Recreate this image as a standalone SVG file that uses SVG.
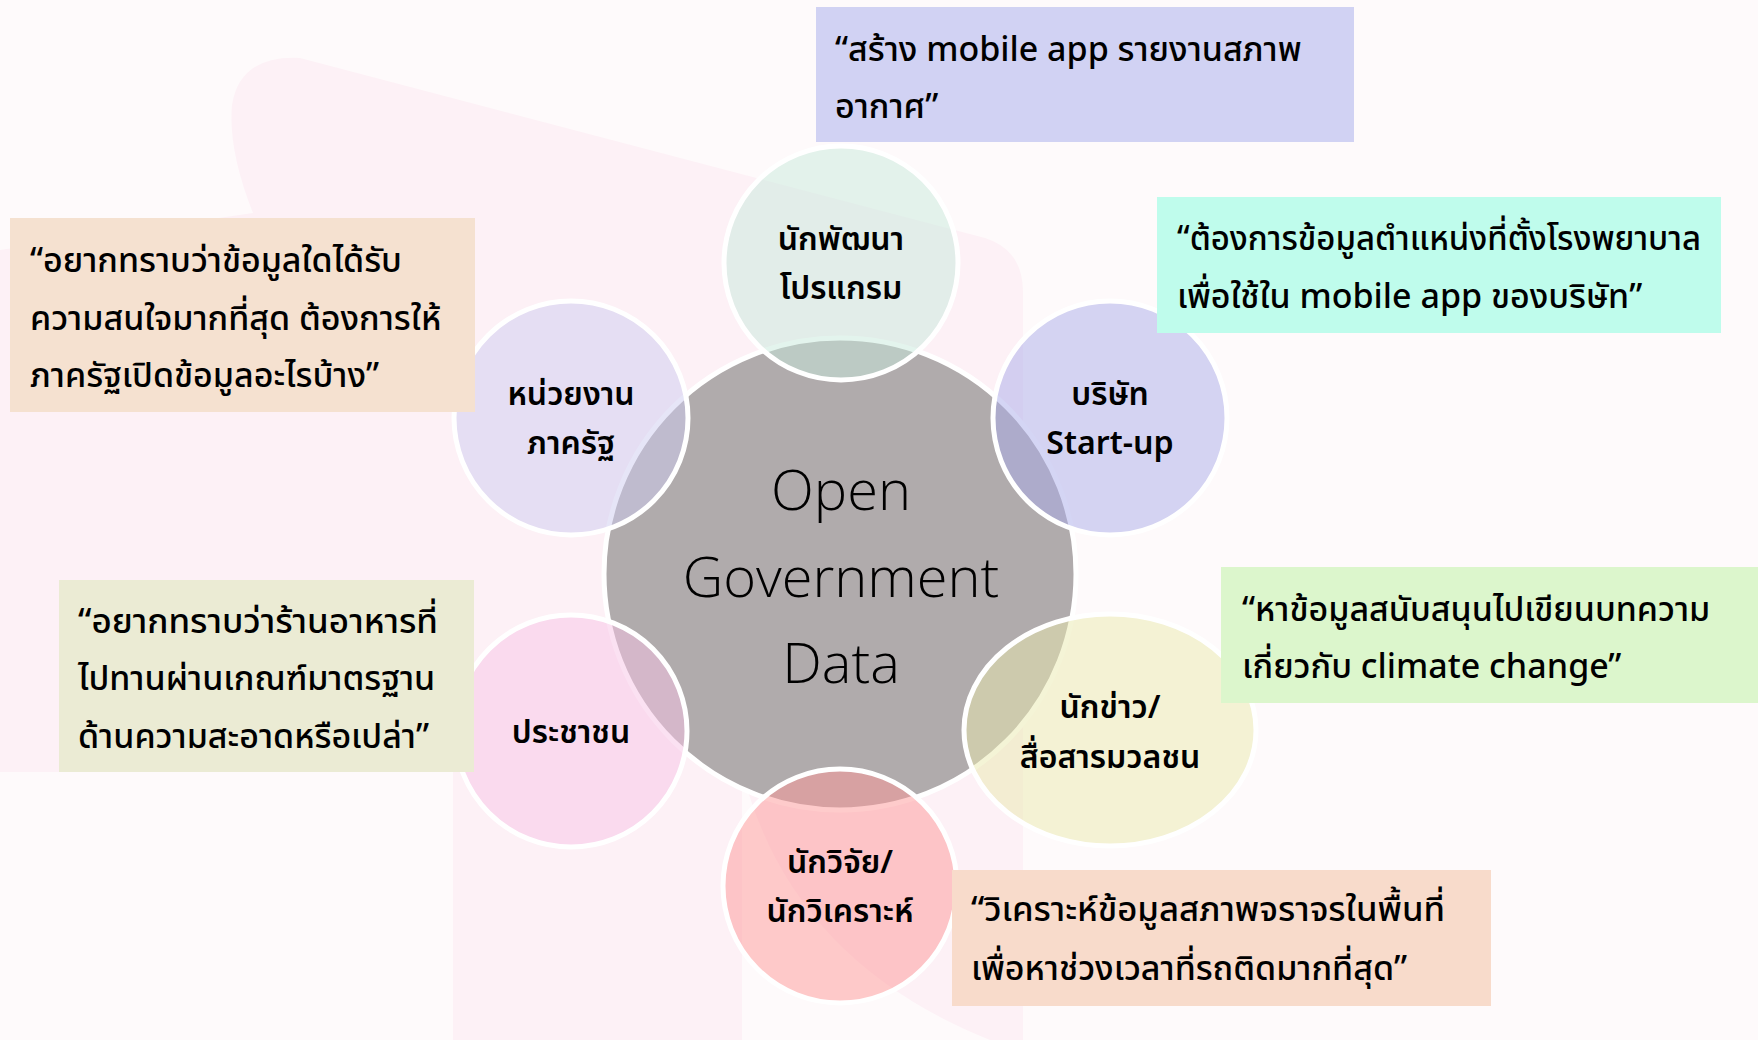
<svg xmlns="http://www.w3.org/2000/svg" width="1758" height="1040" viewBox="0 0 1758 1040">
<style>
.th{font-family:"Noto Sans Thai","Leelawadee UI",Tahoma,"Noto Sans","DejaVu Sans",sans-serif;fill:#000;}
.box{font-size:34px;font-weight:500;}
.lbl{font-size:32px;font-weight:600;text-anchor:middle;}
.ring{stroke:#ffffff;stroke-width:5;}
.ctr{font-family:"Open Sans","Noto Sans","Liberation Sans",sans-serif;font-weight:300;font-size:56px;fill:#000;text-anchor:middle;}
</style>
<rect x="0" y="0" width="1758" height="1040" fill="#fefafb"/>
<g id="background" fill="#fdf1f6">
<path d="M300,58 L985,238 Q1023,250 1023,292 L1023,1040 L990,1040 Q790,960 742,770 L742,1040 L453,1040 L453,772 L0,772 L0,250 L253,213 Q228,150 232,105 Q240,55 300,58 Z"/>
</g>
<g id="connectors"></g>
<g id="node-center">
<circle class="ring" cx="840" cy="574" r="236" fill="#b0abac"/>
<text class="ctr" x="841" y="510">Open</text>
<text class="ctr" x="841" y="597">Government</text>
<text class="ctr" x="841" y="683">Data</text>
</g>
<g id="node-developer">
<circle class="ring" cx="841" cy="263" r="117" fill="#c8eadb" fill-opacity="0.5"/>
<text class="th lbl" x="841" y="250">นักพัฒนา</text>
<text class="th lbl" x="841" y="299">โปรแกรม</text>
</g>
<g id="node-government">
<circle class="ring" cx="571" cy="418" r="117" fill="#ceccef" fill-opacity="0.5"/>
<text class="th lbl" x="571" y="405">หน่วยงาน</text>
<text class="th lbl" x="571" y="454">ภาครัฐ</text>
</g>
<g id="node-startup">
<circle class="ring" cx="1110" cy="418" r="117" fill="#aaace9" fill-opacity="0.5"/>
<text class="th lbl" x="1110" y="405">บริษัท</text>
<text class="th lbl" x="1110" y="454">Start-up</text>
</g>
<g id="node-media">
<ellipse class="ring" cx="1110" cy="730" rx="146" ry="116" fill="#eaeaad" fill-opacity="0.5"/>
<text class="th lbl" x="1110" y="718">นักข่าว/</text>
<text class="th lbl" x="1110" y="768">สื่อสารมวลชน</text>
</g>
<g id="node-citizen">
<circle class="ring" cx="571" cy="731" r="116" fill="#f8c4e5" fill-opacity="0.5"/>
<text class="th lbl" x="571" y="743">ประชาชน</text>
</g>
<g id="node-researcher">
<circle class="ring" cx="840" cy="886" r="117" fill="#fe9897" fill-opacity="0.5"/>
<text class="th lbl" x="840" y="873">นักวิจัย/</text>
<text class="th lbl" x="840" y="922">นักวิเคราะห์</text>
</g>
<g id="quote-developer">
<rect x="816" y="7" width="538" height="135" fill="#d1d2f3"/>
<text class="th box" x="835" y="61">“สร้าง mobile app รายงานสภาพ</text>
<text class="th box" x="835" y="118">อากาศ”</text>
</g>
<g id="quote-startup">
<rect x="1157" y="197" width="564" height="136" fill="#bffcec"/>
<text class="th box" x="1177" y="250" textLength="524" lengthAdjust="spacingAndGlyphs">“ต้องการข้อมูลตำแหน่งที่ตั้งโรงพยาบาล</text>
<text class="th box" x="1177" y="308">เพื่อใช้ใน mobile app ของบริษัท”</text>
</g>
<g id="quote-government">
<rect x="10" y="218" width="465" height="194" fill="#f5e1d0"/>
<text class="th box" x="30" y="272">“อยากทราบว่าข้อมูลใดได้รับ</text>
<text class="th box" x="30" y="330">ความสนใจมากที่สุด ต้องการให้</text>
<text class="th box" x="30" y="387">ภาครัฐเปิดข้อมูลอะไรบ้าง”</text>
</g>
<g id="quote-citizen">
<rect x="59" y="580" width="415" height="192" fill="#ebebd4"/>
<text class="th box" x="78" y="633" textLength="360" lengthAdjust="spacingAndGlyphs">“อยากทราบว่าร้านอาหารที่</text>
<text class="th box" x="78" y="690">ไปทานผ่านเกณฑ์มาตรฐาน</text>
<text class="th box" x="78" y="748">ด้านความสะอาดหรือเปล่า”</text>
</g>
<g id="quote-media">
<rect x="1221" y="567" width="537" height="136" fill="#dcf6cc"/>
<text class="th box" x="1242" y="621">“หาข้อมูลสนับสนุนไปเขียนบทความ</text>
<text class="th box" x="1242" y="678">เกี่ยวกับ climate change”</text>
</g>
<g id="quote-researcher">
<rect x="952" y="870" width="539" height="136" fill="#f8dbcb"/>
<text class="th box" x="971" y="921" textLength="474" lengthAdjust="spacingAndGlyphs">“วิเคราะห์ข้อมูลสภาพจราจรในพื้นที่</text>
<text class="th box" x="971" y="980">เพื่อหาช่วงเวลาที่รถติดมากที่สุด”</text>
</g>
</svg>
